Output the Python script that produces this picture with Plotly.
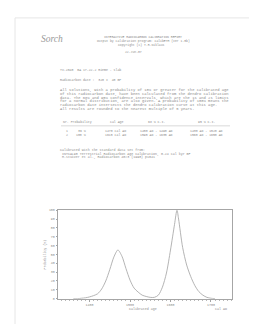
import plotly.graph_objects as go

# ---- data ----
years = [1360, 1370, 1380, 1390, 1400, 1410, 1420, 1430, 1440, 1450, 1460, 1470,
         1480, 1490, 1500, 1510, 1520, 1530, 1540, 1550, 1560, 1570, 1580, 1590,
         1600, 1610, 1616, 1620, 1630, 1640, 1650, 1660, 1670, 1680, 1690, 1700, 1710]
probability = [0, 0, 0.5, 1, 2, 3.5, 5.6, 11, 20, 33, 47, 55,
               48, 34, 21, 12, 7.5, 4, 2.5, 1.5, 1.5, 4, 13, 29,
               55, 84, 100, 90, 58, 38, 25, 15, 8, 4, 1.5, 0.5, 0]
x_ticks = [1400, 1500, 1600, 1700]
y_ticks = [0, 10, 20, 30, 40, 50, 60, 70, 80, 90, 100]

header_lines = ["INTERACTIVE RADIOCARBON CALIBRATION REPORT",
                "Output by calibration program: CalibETH (ver 1.5b)",
                "Copyright (c) T.R.Niklaus"]
report_date = "22-Jun-07"
sample_line = "TV-2040  BA 17-22-2 Rieme - slab"
date_line = "Radiocarbon date :  320 \u00b1  40 BP"
paragraph = ["All solutions, with a probability of 10% or greater for the calibrated age",
             "of this radiocarbon date, have been calculated from the dendro calibration",
             "data. The 68% and 95% confidence intervals, which are the 1s and 2s limits",
             "for a normal distribution, are also given. A probability of 100% means the",
             "radiocarbon date intersects the dendro calibration curve at this age.",
             "All results are rounded to the nearest multiple of 5 years."]
table_header = ["Nr. Probability", "cal Age", "68 % C.I.", "95 % C.I."]
table_rows = [["1", "36 %", "1470 cal AD", "1450 AD - 1490 AD", "1430 AD - 1520 AD"],
              ["2", "100 %", "1615 cal AD", "1595 AD - 1635 AD", "1560 AD - 1650 AD"]]
source_lines = ["Calibrated with the standard data set from:",
                " INTCAL98 Terrestrial Radiocarbon Age Calibration, 0-24 cal kyr BP",
                " M.Stuiver et al., Radiocarbon 40#3 (1998) p1041"]

W, H = 257, 324
def px(x): return x / W
def py(y): return 1 - y / H

TXT = "#8c8c8c"
LINE = "#a6a6a6"
MONO = "Liberation Mono"

fig = go.Figure()
fig.add_trace(go.Scatter(x=years, y=probability, mode="lines",
                         line=dict(color="#ababab", width=0.9, shape="spline", smoothing=0.8),
                         hoverinfo="skip", showlegend=False))

ann = []
def text(x, y, s, size=3.2, anchor="left", color=TXT, font=MONO, **kw):
    ann.append(dict(x=px(x), y=py(y), xref="paper", yref="paper", text=s, showarrow=False,
                    xanchor=anchor, yanchor="middle",
                    font=dict(family=font, size=size, color=color, **kw)))

# signature
text(31, 29.5, "Sorch", size=9.5, font="Liberation Serif", color="#9a9a9a", style="italic")
# header
text(135, 27, header_lines[0], size=3.1, anchor="center")
text(135, 31, header_lines[1], size=3.1, anchor="center")
text(133, 35, header_lines[2], size=3.1, anchor="center")
text(125, 43, report_date, size=3.1, anchor="center")
text(50, 61, sample_line, size=3.2)
text(50, 71, date_line, size=3.2)
for i, s in enumerate(paragraph):
    text(50, 81 + i * 3.85, s, size=3.8)
# table
text(53, 113.5, table_header[0], size=3.2)
text(100, 113.5, table_header[1], size=3.2)
text(138, 113.5, table_header[2], size=3.2)
text(188, 113.5, table_header[3], size=3.2)
for i, r in enumerate(table_rows):
    y = 122.3 + i * 4.4
    text(56, y, r[0], size=3.2)
    text(80, y, r[1], size=3.2, anchor="right")
    text(95, y, r[2], size=3.2)
    text(130, y, r[3], size=3.2)
    text(180, y, r[4], size=3.2)
for i, s in enumerate(source_lines):
    text(50, 141.7 + i * 3.8, s, size=3.3)
# chart labels
text(135, 303, "Calibrated age", size=3.3, anchor="center")
text(213, 302.5, "cal AD", size=3.3, anchor="center")
ann.append(dict(x=px(36.5), y=py(248), xref="paper", yref="paper", text="Probability (%)",
                showarrow=False, textangle=-90, xanchor="center", yanchor="middle",
                font=dict(family=MONO, size=3.3, color=TXT)))

shapes = [
    dict(type="rect", xref="paper", yref="paper", x0=px(7), x1=px(250), y0=py(330), y1=py(8),
         line=dict(color="#e6e6e6", width=1), layer="below"),
    dict(type="line", xref="paper", yref="paper", x0=px(53), x1=px(222), y0=py(117.3), y1=py(117.3),
         line=dict(color="#c0c0c0", width=0.6)),
]

fig.update_layout(
    width=W, height=H, margin=dict(l=0, r=0, t=0, b=0),
    paper_bgcolor="white", plot_bgcolor="white",
    annotations=ann, shapes=shapes, showlegend=False,
    xaxis=dict(domain=[px(50), px(224)], range=[1322, 1752], tickvals=x_ticks,
               ticktext=[str(v) for v in x_ticks], ticks="outside", ticklen=2,
               tickcolor=LINE, tickfont=dict(family=MONO, size=3.3, color=TXT),
               showline=True, linecolor=LINE, linewidth=1, mirror=True,
               showgrid=False, zeroline=False, fixedrange=True,
               minor=dict(dtick=10, ticks="outside", ticklen=1, tickcolor="#b8b8b8")),
    yaxis=dict(domain=[py(292.3), py(202.7)], range=[0, 100], tickvals=y_ticks,
               ticks="outside", ticklen=1.5, tickcolor=LINE,
               tickfont=dict(family=MONO, size=3.3, color=TXT),
               showline=True, linecolor=LINE, linewidth=1, mirror=True,
               showgrid=False, zeroline=False, fixedrange=True),
)

fig.write_html("out.html")
